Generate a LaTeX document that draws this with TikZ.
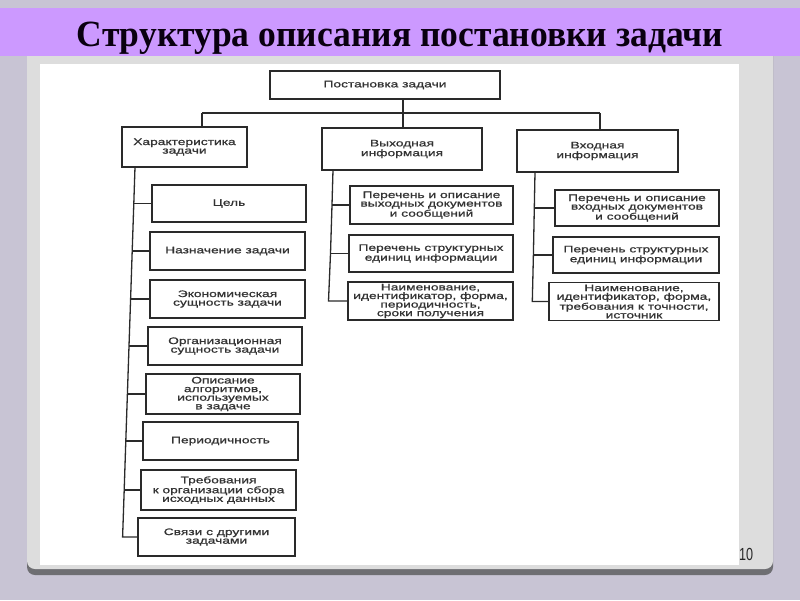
\documentclass[tikz,border=0pt]{standalone}
\usepackage{fontspec}
\setmainfont{Liberation Serif}
\newfontfamily\titlefont[FakeStretch=0.96]{Liberation Serif}
\newfontfamily\scanfont[FakeStretch=1.45,FakeBold=1.0]{Liberation Sans}
\newfontfamily\numfont[FakeStretch=0.72]{Liberation Sans}
\definecolor{bgcol}{HTML}{C8C4D4}
\definecolor{bandcol}{HTML}{CC99FF}
\definecolor{panelcol}{HTML}{DDDDDD}
\definecolor{shadowcol}{HTML}{6E6E72}
\definecolor{ink}{HTML}{2A2A2A}
\definecolor{inktext}{HTML}{333333}
\definecolor{titlecol}{HTML}{0A0010}
\tikzset{
  box/.style={draw=ink, line width=1.4pt, fill=white, inner sep=0pt, align=center,
    font=\scanfont\fontsize{9.5}{8.6}\selectfont, text=inktext},
  conn/.style={draw=ink, line width=1.3pt}
}
\begin{document}
\begin{tikzpicture}[x=1pt,y=-1pt]
\useasboundingbox (0,0) rectangle (800,600);
% background
\fill[bgcol] (0,0) rectangle (800,600);
% panel shadow and panel
\fill[shadowcol, rounded corners=8pt] (27,40) rectangle (773,575);
\fill[panelcol, rounded corners=8pt] (27,40) rectangle (773,569);
% white image area
\fill[white] (40,64) rectangle (739,565);
% title band
\fill[bandcol] (0,8) rectangle (800,56);
\node[font=\titlefont\fontsize{37}{37}\bfseries\selectfont, anchor=base, text=titlecol, inner sep=0pt]
  (title) at (400,46) {Структура описания постановки задачи};
% page number
\node[font=\numfont\fontsize{17.5}{17.5}\selectfont, text=black!85, inner sep=0pt] (pnum) at (746,554) {10};

% top level
\node[box, minimum width=230pt, minimum height=28pt] (top) at (385,85) {Постановка задачи};
\node[box, minimum width=125pt, minimum height=40pt] (b1) at (184.5,147) {Характеристика\\задачи};
\node[box, minimum width=160pt, minimum height=42pt] (b2) at (402,149) {Выходная\\информация};
\node[box, minimum width=161pt, minimum height=42pt] (b3) at (597.5,151) {Входная\\информация};

\coordinate (hL) at (202,113);
\coordinate (hM) at (403,113);
\coordinate (hR) at (600,113);
\draw[conn] (top.south -| hM) -- (b2.north -| hM);
\draw[conn] (hL) -- (hR);
\draw[conn] (hL) -- (b1.north -| hL);
\draw[conn] (hR) -- (b3.north -| hR);

% left column
\node[box, minimum width=154pt, minimum height=37pt] (l1) at (229,203.5) {Цель};
\node[box, minimum width=155pt, minimum height=38pt] (l2) at (227.5,251) {Назначение задачи};
\node[box, minimum width=155pt, minimum height=38pt] (l3) at (227.5,299) {Экономическая\\сущность задачи};
\node[box, minimum width=154pt, minimum height=38pt] (l4) at (225,346) {Организационная\\сущность задачи};
\node[box, minimum width=154pt, minimum height=40pt] (l5) at (223,394) {Описание\\алгоритмов,\\используемых\\в задаче};
\node[box, minimum width=155pt, minimum height=38pt] (l6) at (220.5,441) {Периодичность};
\node[box, minimum width=155pt, minimum height=40pt] (l7) at (218.5,490) {Требования\\к организации сбора\\исходных данных};
\node[box, minimum width=157pt, minimum height=38pt] (l8) at (216.5,537) {Связи с другими\\задачами};

\coordinate (lt0) at (135,167);
\coordinate (jl1) at (133.8,203.5);
\coordinate (jl2) at (132.2,251);
\coordinate (jl3) at (130.6,299);
\coordinate (jl4) at (129,346);
\coordinate (jl5) at (127.4,394);
\coordinate (jl6) at (125.8,441);
\coordinate (jl7) at (124.2,490);
\coordinate (jl8) at (122.6,537);
\draw[conn] (lt0) -- (jl1) -- (jl2) -- (jl3) -- (jl4) -- (jl5) -- (jl6) -- (jl7) -- (jl8) -- (jl8 -| l8.west);
\foreach \i in {1,...,7}{\draw[conn] (jl\i) -- (jl\i -| l\i.west);}

% middle column
\node[box, minimum width=163pt, minimum height=38pt] (m1) at (431.5,205) {Перечень и описание\\выходных документов\\и сообщений};
\node[box, minimum width=164pt, minimum height=37pt] (m2) at (431,253.5) {Перечень структурных\\единиц информации};
\node[box, minimum width=165pt, minimum height=38pt] (m3) at (430.5,301) {Наименование,\\идентификатор, форма,\\периодичность,\\сроки получения};
\coordinate (mt0) at (333,170);
\coordinate (jm1) at (332,205);
\coordinate (jm2) at (330.5,253.5);
\coordinate (jm3) at (328.5,301);
\draw[conn] (mt0) -- (jm1) -- (jm2) -- (jm3) -- (jm3 -| m3.west);
\foreach \i in {1,2}{\draw[conn] (jm\i) -- (jm\i -| m\i.west);}

% right column
\node[box, minimum width=164pt, minimum height=36pt] (r1) at (637,208) {Перечень и описание\\входных документов\\и сообщений};
\node[box, minimum width=166pt, minimum height=36pt] (r2) at (636,255) {Перечень структурных\\единиц информации};
\node[box, minimum width=170pt, minimum height=38pt] (r3) at (634,301.5) {Наименование,\\идентификатор, форма,\\требования к точности,\\источник};
\coordinate (rt0) at (535,172);
\coordinate (jr1) at (534.3,208);
\coordinate (jr2) at (533.4,255);
\coordinate (jr3) at (532.3,301.5);
\draw[conn] (rt0) -- (jr1) -- (jr2) -- (jr3) -- (jr3 -| r3.west);
\foreach \i in {1,2}{\draw[conn] (jr\i) -- (jr\i -| r\i.west);}
\end{tikzpicture}
\end{document}
